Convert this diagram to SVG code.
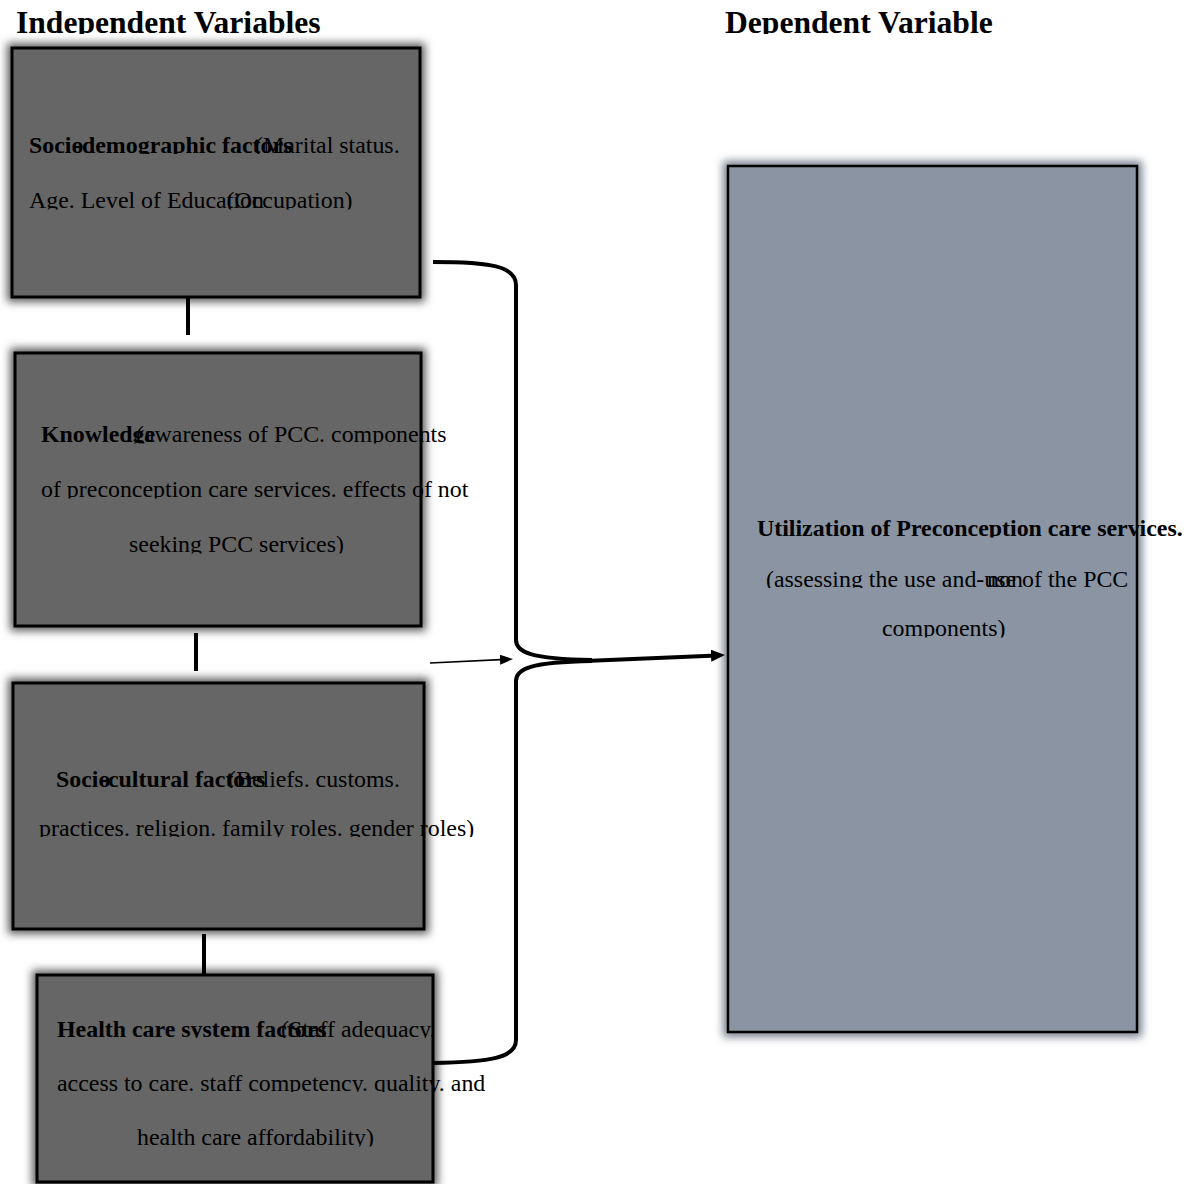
<svg xmlns="http://www.w3.org/2000/svg" width="1188" height="1184" viewBox="0 0 1188 1184">
<defs>
<style>
text{font-family:"Liberation Serif","Times New Roman",serif;fill:#000}
.r{font-size:23.9px}
.b{font-size:23.9px;font-weight:bold}
.h{font-size:31.6px;font-weight:bold}
.fillL{fill:#666666}
.fillR{fill:#8a94a2}
.border{fill:none;stroke:#000;stroke-width:3}
.borderR{fill:none;stroke:#000;stroke-width:2.5}
.glowL{fill:#5e5e5e}
.glowR{fill:#76808e}
.conn{fill:none;stroke:#000;stroke-width:4}
.thin{fill:none;stroke:#000;stroke-width:1.6}
</style>
<filter id="blur" x="-10%" y="-10%" width="120%" height="120%"><feGaussianBlur stdDeviation="4"/></filter>
<marker id="ah" viewBox="0 0 14 12" refX="6" refY="6" markerWidth="14" markerHeight="12" markerUnits="userSpaceOnUse" orient="auto"><path d="M0,0 L14,6 L0,12 z" fill="#000"/></marker>
<marker id="ahs" viewBox="0 0 13 10" refX="6" refY="5" markerWidth="13" markerHeight="10" markerUnits="userSpaceOnUse" orient="auto"><path d="M0,0 L13,5 L0,10 z" fill="#000"/></marker>
<clipPath id="cH"><rect x="0" y="0" width="1188" height="34"/></clipPath>
<clipPath id="c1"><rect x="0" y="123" width="1188" height="31"/><rect x="0" y="178.5" width="1188" height="31"/></clipPath>
<clipPath id="c2"><rect x="0" y="412.5" width="1188" height="31"/><rect x="0" y="467.5" width="1188" height="31"/><rect x="0" y="522.5" width="1188" height="31"/></clipPath>
<clipPath id="c3"><rect x="0" y="757" width="1188" height="31"/><rect x="0" y="806" width="1188" height="31"/></clipPath>
<clipPath id="c4"><rect x="0" y="1007" width="1188" height="31"/><rect x="0" y="1061" width="1188" height="31"/><rect x="0" y="1115.5" width="1188" height="31"/></clipPath>
<clipPath id="c5"><rect x="0" y="506.5" width="1188" height="31"/><rect x="0" y="557" width="1188" height="31"/><rect x="0" y="606.5" width="1188" height="31"/></clipPath>
</defs>

<g id="headings" clip-path="url(#cH)">
<text class="h" x="16" y="32.5">Independent Variables</text>
<text class="h" x="725" y="32.5">Dependent Variable</text>
</g>

<g id="node-sociodemographic">
<rect class="glowL" x="7" y="43" width="418" height="259" filter="url(#blur)"/>
<rect class="fillL" x="12" y="48" width="408" height="249"/>
<g clip-path="url(#c1)">
<text class="b" x="29" y="152.5">Socio</text>
<text class="b" x="74" y="152.5">-demographic factors</text>
<text class="r" x="255" y="152.5">(Marital status.</text>
<text class="r" x="29" y="208">Age. Level of Education</text>
<text class="r" x="226.5" y="208">(Occupation)</text>
</g>
<rect class="border" x="12" y="48" width="408" height="249"/>
</g>

<g id="node-knowledge">
<rect class="glowL" x="10" y="348" width="416" height="283" filter="url(#blur)"/>
<rect class="fillL" x="15" y="353" width="406" height="273"/>
<g clip-path="url(#c2)">
<text class="b" x="41" y="442">Knowledge</text>
<text class="r" x="136" y="442">(awareness of PCC. components</text>
<text class="r" x="41" y="497">of preconception care services. effects of not</text>
<text class="r" x="129" y="552">seeking PCC services)</text>
</g>
<rect class="border" x="15" y="353" width="406" height="273"/>
</g>

<g id="node-sociocultural">
<rect class="glowL" x="8" y="678" width="421" height="256" filter="url(#blur)"/>
<rect class="fillL" x="13" y="683" width="411" height="246"/>
<g clip-path="url(#c3)">
<text class="b" x="56" y="786.5">Socio</text>
<text class="b" x="100" y="786.5">-cultural factors</text>
<text class="r" x="228" y="786.5">(Beliefs. customs.</text>
<text class="r" x="39" y="835.5">practices. religion. family roles. gender roles)</text>
</g>
<rect class="border" x="13" y="683" width="411" height="246"/>
</g>

<g id="node-healthcare">
<rect class="glowL" x="32" y="970" width="406" height="217" filter="url(#blur)"/>
<rect class="fillL" x="37" y="975" width="396" height="207"/>
<g clip-path="url(#c4)">
<text class="b" x="57" y="1036.5">Health care system factors</text>
<text class="r" x="281" y="1036.5">(Staff adequacy.</text>
<text class="r" x="57" y="1090.5">access to care. staff competency. quality. and</text>
<text class="r" x="137" y="1145">health care affordability)</text>
</g>
<rect class="border" x="37" y="975" width="396" height="207"/>
</g>

<g id="node-utilization">
<rect class="glowR" x="723" y="161" width="419" height="876" filter="url(#blur)"/>
<rect class="fillR" x="728" y="166" width="409" height="866"/>
<g clip-path="url(#c5)">
<text class="b" x="757" y="536">Utilization of Preconception care services.</text>
<text class="r" x="766" y="586.5">(assessing the use and-use of the PCC</text>
<text class="r" x="987" y="586.5">non</text>
<text class="r" x="882" y="636">components)</text>
</g>
<rect class="borderR" x="728" y="166" width="409" height="866"/>
</g>

<g id="connectors">
<line class="conn" x1="188" y1="298" x2="188" y2="335"/>
<line class="conn" x1="196" y1="633" x2="196" y2="671"/>
<line class="conn" x1="204" y1="934" x2="204" y2="975"/>
<path class="conn" d="M433,262 C490,262 516,266 516,285 L516,640 C516,652 530,659 592,660"/>
<path class="conn" d="M592,661 C530,662 516,669 516,681 L516,1040 C516,1058 490,1062 433,1063"/>
<path class="conn" d="M585,661 L717,655.4" marker-end="url(#ah)"/>
<path class="thin" d="M430,663 L506,659.4" marker-end="url(#ahs)"/>
</g>
</svg>
